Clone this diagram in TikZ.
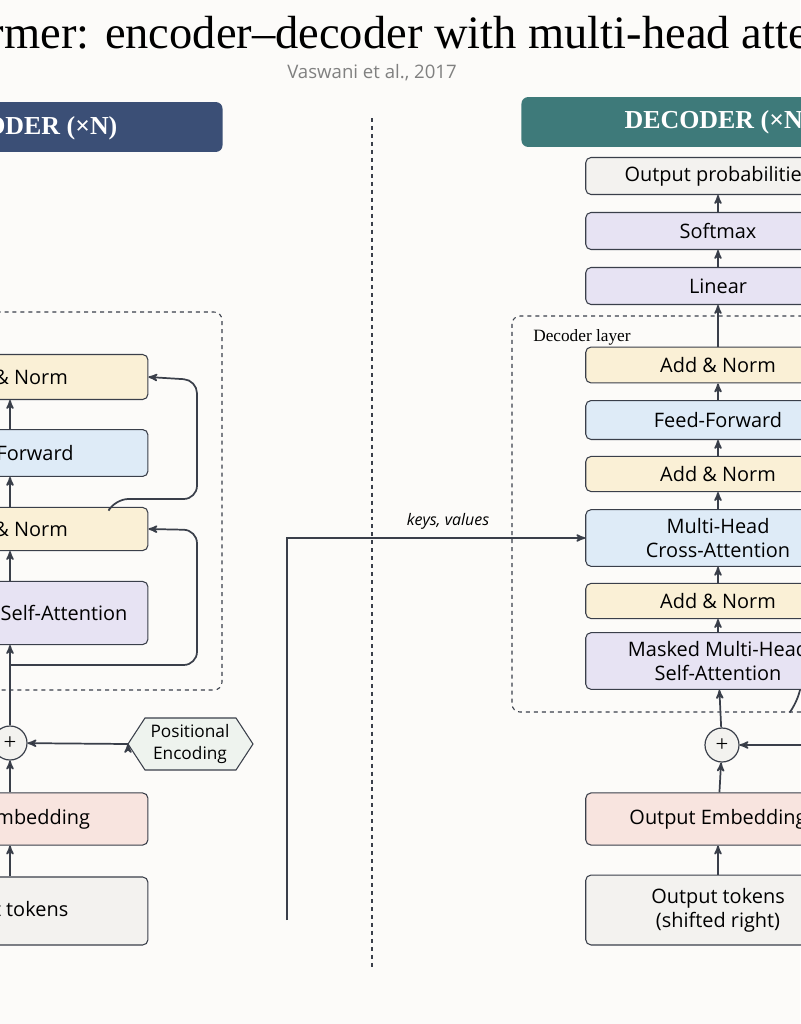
\documentclass[tikz,border=0pt]{standalone}
\usepackage{fontspec}
\setmainfont{Liberation Serif}
\setsansfont{Open Sans}
\usetikzlibrary{arrows,positioning}
\definecolor{bg}{HTML}{FCFBF9}
\definecolor{ink}{HTML}{3A3F4A}
\definecolor{normc}{HTML}{FAF0D6}
\definecolor{ffc}{HTML}{DEEBF7}
\definecolor{attc}{HTML}{E7E3F3}
\definecolor{embc}{HTML}{F8E4DF}
\definecolor{tokc}{HTML}{F3F2EF}
\definecolor{pec}{HTML}{EEF3EE}
\definecolor{encc}{HTML}{3B4F76}
\definecolor{decc}{HTML}{3E7A7A}
\begin{document}
\begin{tikzpicture}[x=0.02646cm,y=-0.02646cm,->,>=stealth',line width=1.3pt]
\tikzstyle{blk}=[draw=ink,line width=0.8pt,rounded corners=4pt,align=center,font=\sffamily\fontsize{15}{18}\selectfont]
\tikzstyle{encblk}=[blk,minimum width=7.3cm]
\tikzstyle{decblk}=[blk,minimum width=7.0cm]
\tikzstyle{hdr}=[rounded corners=5pt,text=white,font=\bfseries\fontsize{19.5}{22}\selectfont,minimum width=10.4cm,minimum height=1.32cm]
\tikzstyle{plus}=[circle,draw=ink,fill=tokc,line width=0.9pt,minimum size=0.9cm,inner sep=0pt,font=\fontsize{17}{17}\selectfont]
\tikzstyle{flow}=[draw=ink,->]
\tikzstyle{layerbox}=[-,dashed,ink,line width=0.8pt,rounded corners=6pt]
\fill[bg] (0,0) rectangle (800,1024);
\useasboundingbox (0,0) rectangle (800,1024);

\node[font=\fontsize{35}{38}\selectfont] (title) at (375,32) {Transformer: encoder–decoder with multi-head attention};
\node[font=\sffamily\fontsize{14}{16}\selectfont,text=gray] (sub) at (372,73) {Vaswani et al., 2017};
\draw[layerbox] (372,118) -- (372,968);

% encoder
\node[fill=encc,rounded corners=5pt,minimum width=10.4cm,minimum height=1.32cm] (encbar) at (26,127) {};
\node[text=white,font=\bfseries\fontsize{19.5}{22}\selectfont] (enchdr) at (24,128) {ENCODER (×N)};
\draw[layerbox] (-150,312) rectangle (222,690);
\node[encblk,fill=normc,minimum height=1.19cm] (en2) at (10,377) {Add \& Norm};
\node[encblk,fill=ffc,minimum height=1.24cm] (eff) at (10,453) {Feed Forward};
\node[encblk,fill=normc,minimum height=1.14cm] (en1) at (10,529) {Add \& Norm};
\node[encblk,fill=attc,minimum height=1.67cm] (esa) at (10,613) {Multi-Head Self-Attention};
\node[plus] (eplus) at (10,743) {+};
\node[encblk,fill=embc,minimum height=1.38cm] (eemb) at (10,819) {Input Embedding};
\node[encblk,fill=tokc,minimum height=1.8cm] (etok) at (10,911) {Input tokens};
\draw[-,draw=ink,line width=0.8pt,fill=pec] (128,744) -- (145,718) -- (236,718) -- (253,744) -- (236,770) -- (145,770) -- cycle;
\node[font=\sffamily\fontsize{13}{16}\selectfont,align=center] (pe) at (190,744) {Positional\\Encoding};
\coordinate (pein) at (128,744);
\coordinate (eres1) at (10,665);
\path[flow]
(etok) edge (eemb)
(eemb) edge (eplus)
(eplus) edge (esa)
(esa) edge (en1)
(en1) edge (eff)
(eff) edge (en2)
(pein) edge (eplus);
\draw[flow,rounded corners=10pt] (eres1) -- (197,665) -- (197,530) -- (en1.east);
\draw[flow,rounded corners=10pt] (110,508) -- (115,499) -- (197,499) -- (197,380) -- (en2.east);

% keys and values
\node[font=\sffamily\itshape\fontsize{12}{14}\selectfont] (kv) at (448,521) {keys, values};
\coordinate (kvs) at (287,920);

% decoder
\node[hdr,fill=decc] (dechdr) at (718,122) {DECODER (×N)};
\node[decblk,fill=tokc,minimum height=0.98cm] (dout) at (718,176) {Output probabilities};
\node[decblk,fill=attc,minimum height=0.98cm] (dsm) at (718,231) {Softmax};
\node[decblk,fill=attc,minimum height=0.98cm] (dlin) at (718,286) {Linear};
\draw[layerbox] (512,316) rectangle (900,712);
\node[anchor=west,font=\fontsize{13}{15}\selectfont] (dl) at (528,337) {Decoder layer};
\node[decblk,fill=normc,minimum height=0.95cm] (dn3) at (718,365) {Add \& Norm};
\node[decblk,fill=ffc,minimum height=1.03cm] (dff) at (718,420) {Feed-Forward};
\node[decblk,fill=normc,minimum height=0.93cm] (dn2) at (718,474) {Add \& Norm};
\node[decblk,fill=ffc,minimum height=1.5cm] (dca) at (718,538) {Multi-Head\\Cross-Attention};
\node[decblk,fill=normc,minimum height=0.93cm] (dn1) at (718,601) {Add \& Norm};
\node[decblk,fill=attc,minimum height=1.5cm] (dsa) at (718,661) {Masked Multi-Head\\Self-Attention};
\node[plus] (dplus) at (722,745) {+};
\node[decblk,fill=embc,minimum height=1.38cm] (demb) at (718,819) {Output Embedding};
\node[decblk,fill=tokc,minimum height=1.85cm] (dtok) at (718,910) {Output tokens\\(shifted right)};
\coordinate (dpe) at (805,745);
\path[flow]
(dtok) edge (demb)
(demb) edge (dplus)
(dplus) edge (dsa)
(dsa) edge (dn1)
(dn1) edge (dca)
(dca) edge (dn2)
(dn2) edge (dff)
(dff) edge (dn3)
(dn3) edge (dlin)
(dlin) edge (dsm)
(dsm) edge (dout)
(dpe) edge (dplus);
\draw[-,ink,rounded corners=8pt] (790,712) -- (796,704) -- (800,690);
\draw[flow] (kvs) |- (dca.west);
\end{tikzpicture}
\end{document}
